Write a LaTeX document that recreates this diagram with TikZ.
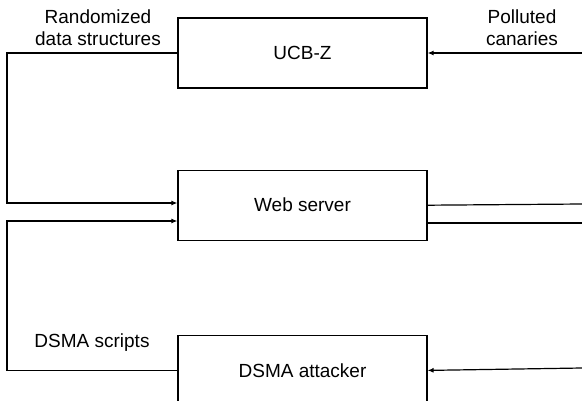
\documentclass[tikz,border=0pt]{standalone}
\usepackage{fontspec}
\setmainfont{Liberation Sans}
\usetikzlibrary{positioning,arrows.meta}

\begin{document}
\begin{tikzpicture}[
        x=1pt, y=-1pt,
        node distance=81pt,
        every node/.style={font=\fontsize{19}{22}\selectfont},
        block/.style={draw,line width=1.2pt,minimum width=249pt,minimum height=70pt,inner sep=0pt},
        tag/.style={align=center,inner sep=0pt},
        feed/.style={line width=1.2pt,-{Latex[length=6pt,width=5pt]}}
    ]
        \clip (0,0) rectangle (582,400);
        \node[block] (ucb) at (302.5,53) {UCB-Z};
        \node[block] (web) [below = of ucb] {Web server};
        \node[block] (dsma) [below = 94pt of web] {DSMA attacker};
        \coordinate (rndturn) at (7,203);
        \coordinate (scrturn) at (7,221);
        \coordinate (canin) at (582,53);
        \coordinate (atkin) at (582,368);
        \coordinate (outhi) at (582,204);
        \coordinate (outlo) at (582,223);
        \draw[feed] (ucb.west) -| (rndturn) -- (web.west |- rndturn);
        \draw[feed] (dsma.west) -| (scrturn) -- (web.west |- scrturn);
        \draw[feed] (canin) -- (ucb.east);
        \draw[feed] (atkin) -- (dsma.east);
        \draw[line width=1.2pt] (web.east) -- (outhi);
        \draw[line width=1.2pt] (web.east |- outlo) -- (outlo);
        \node[tag] (rnd) at (98,28) {Randomized\\data structures};
        \node[tag] (can) at (522,28) {Polluted\\canaries};
        \node[tag] (scr) at (92,343) {DSMA scripts};
    \end{tikzpicture}
\end{document}
